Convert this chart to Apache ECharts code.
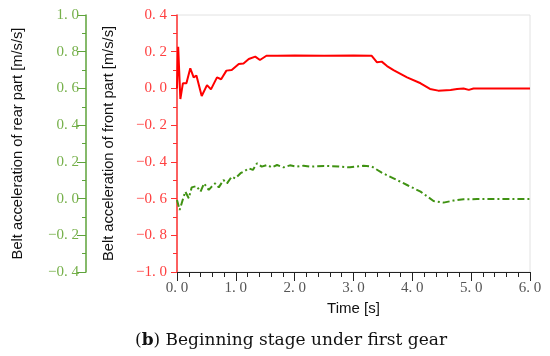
<!DOCTYPE html>
<html><head><meta charset="utf-8">
<script src="https://cdn.jsdelivr.net/npm/echarts@6/dist/echarts.min.js"></script>
<style>html,body{margin:0;padding:0;background:#fff}#c{width:550px;height:356px}</style>
</head><body><div id="c"></div>
<script>
// Front part (red), time [s] and acceleration [m/s/s]
const frontTime = [0, 0.02, 0.057, 0.10, 0.16, 0.226, 0.283, 0.33, 0.42, 0.51, 0.577, 0.68, 0.75, 0.84, 0.93, 1.05, 1.13, 1.22, 1.33, 1.41, 1.52, 1.7, 2.0, 2.5, 3.0, 3.31, 3.40, 3.48, 3.57, 3.68, 3.91, 4.14, 4.30, 4.44, 4.65, 4.76, 4.87, 4.96, 5.04, 5.5, 6.0];
const frontAcc  = [0, 0.227, -0.058, 0.028, 0.028, 0.11, 0.06, 0.07, -0.041, 0.018, -0.005, 0.06, 0.05, 0.097, 0.10, 0.133, 0.136, 0.16, 0.173, 0.155, 0.178, 0.178, 0.179, 0.178, 0.179, 0.178, 0.142, 0.146, 0.122, 0.10, 0.06, 0.028, -0.003, -0.012, -0.008, -0.003, 0.0, -0.008, 0.0, 0.0, 0.0];
// Rear part (green)
const rearTime = [0, 0.045, 0.10, 0.14, 0.17, 0.20, 0.25, 0.33, 0.40, 0.46, 0.54, 0.59, 0.65, 0.71, 0.79, 0.85, 0.93, 0.99, 1.08, 1.16, 1.22, 1.29, 1.36, 1.44, 1.53, 1.61, 1.70, 1.81, 1.92, 2.04, 2.15, 2.26, 2.5, 2.75, 2.94, 3.17, 3.31, 3.48, 3.68, 3.91, 4.14, 4.36, 4.53, 4.70, 4.87, 5.1, 5.5, 6.0];
const rearAcc  = [-0.008, -0.062, -0.004, 0.038, 0.047, 0.002, 0.061, 0.068, 0.038, 0.083, 0.047, 0.065, 0.083, 0.061, 0.101, 0.083, 0.119, 0.11, 0.138, 0.152, 0.165, 0.156, 0.192, 0.174, 0.183, 0.17, 0.183, 0.17, 0.181, 0.174, 0.179, 0.174, 0.178, 0.175, 0.17, 0.179, 0.175, 0.141, 0.11, 0.074, 0.038, -0.013, -0.022, -0.011, -0.004, -0.003, -0.003, -0.003];
// Axis ranges
const xRange = [0, 6, 1];
const frontRange = [-1.0, 0.4, 0.2];
const rearRange = [-0.4, 1.0, 0.2];

const fmt = v => { const s = Math.abs(v).toFixed(1).replace('.', '. '); return (v < -1e-9 ? '\u2212' : '') + s; };
const serif = '"Liberation Serif", "DejaVu Serif", serif';
const capSerif = '"DejaVu Serif", serif';
const sans = '"Liberation Sans", Arial, sans-serif';

const chart = echarts.init(document.getElementById('c'), null, {renderer: 'canvas'});
chart.setOption({
  animation: false,
  backgroundColor: '#fff',
  title: {
    text: '({b|b}) Beginning stage under first gear',
    left: 130, top: 327,
    textStyle: {
      fontFamily: capSerif, fontSize: 17, fontWeight: 'normal', color: '#111',
      rich: { b: { fontFamily: capSerif, fontSize: 17, fontWeight: 'bold', color: '#111' } }
    }
  },
  grid: { left: 177, right: 20, top: 15, bottom: 84, show: true, borderColor: '#e2e2e2', borderWidth: 1 },
  xAxis: {
    type: 'value', min: xRange[0], max: xRange[1], interval: xRange[2],
    name: 'Time [s]', nameLocation: 'middle', nameGap: 27,
    nameTextStyle: { fontFamily: sans, fontSize: 15, color: '#111' },
    axisLine: { onZero: false, lineStyle: { color: '#222', width: 1 } },
    axisTick: { show: true, inside: false, length: 9, lineStyle: { color: '#222' } },
    minorTick: { show: true, splitNumber: 5, length: 5, lineStyle: { color: '#222' } },
    splitLine: { show: false },
    axisLabel: { formatter: fmt, fontFamily: serif, fontSize: 15, color: '#555', margin: 9 }
  },
  yAxis: [
    {
      type: 'value', min: frontRange[0], max: frontRange[1], interval: frontRange[2], position: 'left',
      name: 'Belt acceleration of front part [m/s/s]', nameLocation: 'middle', nameGap: 61, nameRotate: 90,
      nameTextStyle: { fontFamily: sans, fontSize: 14.7, color: '#111' },
      axisLine: { show: true, onZero: false, lineStyle: { color: '#ff3030', width: 1.5 } },
      axisTick: { show: true, inside: false, length: 6, lineStyle: { color: '#ff3030' } },
      minorTick: { show: true, splitNumber: 2, length: 4, lineStyle: { color: '#ff3030' } },
      splitLine: { show: false },
      axisLabel: { formatter: fmt, fontFamily: serif, fontSize: 15, color: '#ff4040', margin: 10 }
    },
    {
      type: 'value', min: rearRange[0], max: rearRange[1], interval: rearRange[2], position: 'left', offset: 91,
      name: 'Belt acceleration of rear part [m/s/s]', nameLocation: 'middle', nameGap: 61, nameRotate: 90,
      nameTextStyle: { fontFamily: sans, fontSize: 14.7, color: '#111' },
      axisLine: { show: true, onZero: false, lineStyle: { color: '#5ea33a', width: 1.5 } },
      axisTick: { show: true, inside: false, length: 9, lineStyle: { color: '#5ea33a' } },
      minorTick: { show: true, splitNumber: 2, length: 4, lineStyle: { color: '#5ea33a' } },
      splitLine: { show: false },
      axisLabel: { formatter: fmt, fontFamily: serif, fontSize: 15, color: '#76b04a', margin: 7 }
    }
  ],
  series: [
    {
      type: 'line', yAxisIndex: 0, symbol: 'none',
      data: frontTime.map((t, i) => [t, frontAcc[i]]),
      lineStyle: { color: '#ff0000', width: 2 }
    },
    {
      type: 'line', yAxisIndex: 1, symbol: 'none',
      data: rearTime.map((t, i) => [t, rearAcc[i]]),
      lineStyle: { color: '#3f9212', width: 2, type: [7, 3, 2, 3] }
    }
  ]
});
</script></body></html>
